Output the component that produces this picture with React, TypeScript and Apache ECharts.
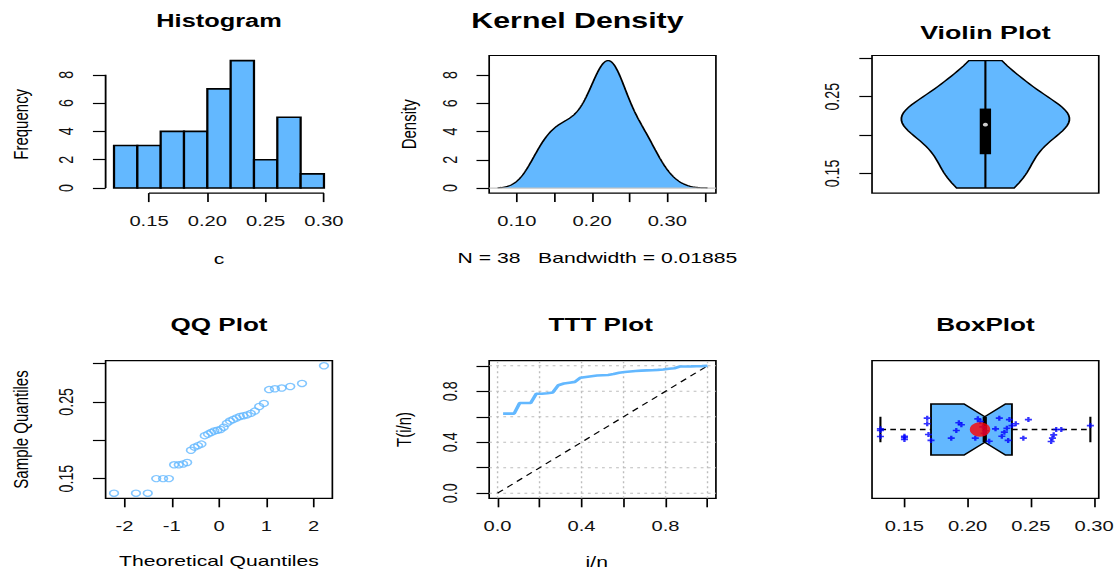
import React, { useEffect, useRef } from "react";
import * as echarts from "echarts";

// ---- data: sorted sample of c (n = 38) ----
const sample = [
  0.131, 0.131, 0.131,
  0.15, 0.15, 0.15,
  0.168, 0.168, 0.169, 0.171,
  0.187, 0.191, 0.193, 0.195,
  0.206, 0.208, 0.21, 0.212, 0.213, 0.214, 0.217,
  0.222, 0.225, 0.227, 0.229, 0.231, 0.232, 0.233, 0.235, 0.238,
  0.244, 0.248,
  0.266, 0.267, 0.268, 0.27, 0.274,
  0.297,
];

// vertical offsets of the strip points drawn over the box plot (same order as sample)
const stripJitter = [
  0.005, -0.055, -0.008,
  -0.053, -0.078, -0.063,
  0.089, 0.045, -0.039, -0.086,
  -0.068, -0.008, 0.053, 0.037,
  -0.068, 0.084, 0.063, 0.02, -0.03, -0.01, -0.092,
  0.005, 0.089, -0.053, -0.021, 0.01, -0.086, 0.078, 0.031, 0.045,
  -0.068, 0.078,
  -0.094, -0.068, -0.042, 0, 0,
  0.031,
];

const histBreaks = [0.12, 0.14, 0.16, 0.18, 0.2, 0.22, 0.24, 0.26, 0.28, 0.3];
const histCounts = [3, 3, 4, 4, 7, 9, 2, 5, 1];
const bandwidth = 0.01885;

// ticks and labelled ticks
const histXTicks = [0.15, 0.2, 0.25, 0.3];
const histYTicks = [0, 2, 4, 6, 8];
const densXTicks = [0.1, 0.15, 0.2, 0.25, 0.3, 0.35];
const densXLabels = [0.1, 0.2, 0.3];
const densYTicks = [0, 2, 4, 6, 8];
const cTicks = [0.15, 0.2, 0.25, 0.3];
const cSparseLabels = [0.15, 0.25];
const qqXTicks = [-2, -1, 0, 1, 2];
const tttTicks = [0, 0.2, 0.4, 0.6, 0.8, 1];
const tttLabels = [0, 0.4, 0.8];

const FILL = "#63B8FF";
const FONT = '"Liberation Sans", Arial, Helvetica, sans-serif';

// layout in px of the unstretched figure; the whole figure is widened horizontally
const FIG_W = 790;
const FIG_H = 574;
const STRETCH = 1114 / FIG_W;
const PLOT_W = 160.8;
const PLOT_H = 137.6;
const COL_X = [74.9, 346.9, 618.4];
const ROW_Y = [55.5, 360.7];
const TICK_FONT = 14.3;

// ---- statistics ----
const n = sample.length;
const xs = [...sample].sort((a, b) => a - b);
const xMin = xs[0];
const xMax = xs[n - 1];
const mean = xs.reduce((s, v) => s + v, 0) / n;
const sd = Math.sqrt(xs.reduce((s, v) => s + (v - mean) ** 2, 0) / (n - 1));

const quantile7 = (p: number) => {
  const h = (n - 1) * p;
  const lo = Math.floor(h);
  const hi = Math.min(lo + 1, n - 1);
  return xs[lo] + (h - lo) * (xs[hi] - xs[lo]);
};
const hinge = (pos: number) => 0.5 * (xs[Math.floor(pos) - 1] + xs[Math.ceil(pos) - 1]);
const n4 = Math.floor((n + 3) / 2) / 2;
const hLo = hinge(n4);
const hMed = hinge((n + 1) / 2);
const hHi = hinge(n + 1 - n4);
const widen = (a: number, b: number): [number, number] => [a - 0.04 * (b - a), b + 0.04 * (b - a)];

const gauss = (u: number) => Math.exp(-0.5 * u * u) / Math.sqrt(2 * Math.PI);
const kde = (t: number, h: number) => xs.reduce((s, v) => s + gauss((t - v) / h), 0) / (n * h);

// kernel density estimate, 512 points over range +/- 3 bandwidths
const densFrom = xMin - 3 * bandwidth;
const densTo = xMax + 3 * bandwidth;
const densCurve = Array.from({ length: 512 }, (_, i) => {
  const t = densFrom + ((densTo - densFrom) * i) / 511;
  return [t, kde(t, bandwidth)];
});
const densMin = Math.min(...densCurve.map((p) => p[1]));
const densPeak = Math.max(...densCurve.map((p) => p[1]));

// violin outline: normal-reference bandwidth, 50 points over the data range
const hViolin = sd * Math.pow(4 / (3 * n), 0.2);
const violinGrid = Array.from({ length: 50 }, (_, i) => xMin + ((xMax - xMin) * i) / 49);
const violinEst = violinGrid.map((t) => kde(t, hViolin));
const violinScale = 0.4 / Math.max(...violinEst);
const violinOutline = [
  ...violinGrid.map((t, i) => [1 - violinEst[i] * violinScale, t]),
  ...violinGrid.map((t, i) => [1 + violinEst[i] * violinScale, t]).reverse(),
];
const vQ1 = quantile7(0.25);
const vQ3 = quantile7(0.75);
const vMed = quantile7(0.5);
const vBoxHalf = 0.027;

// normal quantile function
function qnorm(p: number): number {
  const a = [-39.69683028665376, 220.9460984245205, -275.9285104469687, 138.357751867269, -30.66479806614716, 2.506628277459239];
  const b = [-54.47609879822406, 161.5858368580409, -155.6989798598866, 66.80131188771972, -13.28068155288572];
  const c = [-0.007784894002430293, -0.3223964580411365, -2.400758277161838, -2.549732539343734, 4.374664141464968, 2.938163982698783];
  const d = [0.007784695709041462, 0.3224671290700398, 2.445134137142996, 3.754408661907416];
  const pl = 0.02425;
  if (p < pl) {
    const q = Math.sqrt(-2 * Math.log(p));
    return (((((c[0] * q + c[1]) * q + c[2]) * q + c[3]) * q + c[4]) * q + c[5]) / ((((d[0] * q + d[1]) * q + d[2]) * q + d[3]) * q + 1);
  }
  if (p > 1 - pl) {
    const q = Math.sqrt(-2 * Math.log(1 - p));
    return -(((((c[0] * q + c[1]) * q + c[2]) * q + c[3]) * q + c[4]) * q + c[5]) / ((((d[0] * q + d[1]) * q + d[2]) * q + d[3]) * q + 1);
  }
  const q = p - 0.5;
  const r = q * q;
  return ((((((a[0] * r + a[1]) * r + a[2]) * r + a[3]) * r + a[4]) * r + a[5]) * q) / (((((b[0] * r + b[1]) * r + b[2]) * r + b[3]) * r + b[4]) * r + 1);
}
const qqPoints = xs.map((v, i) => [qnorm((i + 0.5) / n), v]);

// total time on test transform
const tttRaw: number[] = [n * xs[0]];
for (let j = 1; j < n; j++) tttRaw.push(tttRaw[j - 1] + (n - j) * (xs[j] - xs[j - 1]));
const tttPoints = tttRaw.map((t, j) => [(j + 1) / n, t / tttRaw[n - 1]]);

// notched box
const boxHalf = 0.2;
const notch = (1.58 * (hHi - hLo)) / Math.sqrt(n);
const notchBox = [
  [hLo, 1 - boxHalf], [hMed - notch, 1 - boxHalf], [hMed, 1 - boxHalf / 2], [hMed + notch, 1 - boxHalf], [hHi, 1 - boxHalf],
  [hHi, 1 + boxHalf], [hMed + notch, 1 + boxHalf], [hMed, 1 + boxHalf / 2], [hMed - notch, 1 + boxHalf], [hLo, 1 + boxHalf],
];

// axis ranges
const histX = widen(histBreaks[0], histBreaks[histBreaks.length - 1]);
const histY = widen(0, Math.max(...histCounts));
const densX = widen(densFrom, densTo);
const densY = widen(densMin, densPeak);
const violinX = widen(0.5, 1.5);
const dataY = widen(xMin, xMax);
const qqX = widen(qqPoints[0][0], qqPoints[n - 1][0]);
const unitR = widen(0, 1);
const boxY = widen(0.5, 1.5);

// ---- option helpers ----
const fmt2 = (v: number) => v.toFixed(2);
const fmt1 = (v: number) => v.toFixed(1);
const fmt0 = (v: number) => String(Math.round(v));

function makeAxis(grid: number, range: [number, number], ticks: number[], labels: number[], fmt: (v: number) => string, vertical: boolean) {
  return {
    type: "value",
    gridIndex: grid,
    min: range[0],
    max: range[1],
    show: ticks.length > 0,
    axisLine: { show: false, onZero: false },
    axisTick: { show: true, customValues: ticks, length: 9, lineStyle: { color: "#000", width: 1.2 } },
    axisLabel: {
      show: true,
      customValues: labels,
      formatter: fmt,
      margin: 21,
      rotate: vertical ? 90 : 0,
      color: "#111",
      fontFamily: FONT,
      fontSize: TICK_FONT,
    },
    splitLine: { show: false },
  };
}

function segments(grid: number, segs: number[][], style: any, z = 3) {
  return {
    type: "custom",
    xAxisIndex: grid,
    yAxisIndex: grid,
    z,
    silent: true,
    clip: false,
    data: segs,
    encode: { x: [0, 2], y: [1, 3] },
    renderItem: (_p: any, api: any) => {
      const a = api.coord([api.value(0), api.value(1)]);
      const b = api.coord([api.value(2), api.value(3)]);
      return { type: "line", shape: { x1: a[0], y1: a[1], x2: b[0], y2: b[1] }, style: { fill: null, ...style } };
    },
  };
}

function polygonSeries(grid: number, pts: number[][], style: any, z = 2) {
  return {
    type: "custom",
    xAxisIndex: grid,
    yAxisIndex: grid,
    z,
    silent: true,
    clip: false,
    data: [pts[0]],
    renderItem: (_p: any, api: any) => ({
      type: "polygon",
      shape: { points: pts.map((p) => api.coord(p)) },
      style,
    }),
  };
}

function text(t: string, x: number, y: number, size = 15, bold = false, rotate = false) {
  return {
    type: "text",
    x,
    y,
    rotation: rotate ? Math.PI / 2 : 0,
    silent: true,
    style: {
      text: t,
      fontFamily: FONT,
      fontSize: size,
      fontWeight: bold ? "bold" : "normal",
      fill: "#000",
      align: "center",
      verticalAlign: "middle",
    },
  };
}

function buildOption(): any {
  const grids = [0, 1].flatMap((r) =>
    [0, 1, 2].map((c) => ({
      left: COL_X[c],
      top: ROW_Y[r],
      width: PLOT_W,
      height: PLOT_H,
      show: !(r === 0 && c === 0),
      borderColor: "#000",
      borderWidth: 1.2,
      backgroundColor: "rgba(0,0,0,0)",
      containLabel: false,
      outerBoundsMode: "none",
    }))
  );

  const xAxis = [
    makeAxis(0, histX, histXTicks, histXTicks, fmt2, false),
    makeAxis(1, densX, densXTicks, densXLabels, fmt2, false),
    makeAxis(2, violinX, [], [], fmt2, false),
    makeAxis(3, qqX, qqXTicks, qqXTicks, fmt0, false),
    makeAxis(4, unitR, tttTicks, tttLabels, fmt1, false),
    makeAxis(5, dataY, cTicks, cTicks, fmt2, false),
  ];
  const yAxis = [
    makeAxis(0, histY, histYTicks, histYTicks, fmt0, true),
    makeAxis(1, densY, densYTicks, densYTicks, fmt0, true),
    makeAxis(2, dataY, cTicks, cSparseLabels, fmt2, true),
    makeAxis(3, dataY, cTicks, cSparseLabels, fmt2, true),
    makeAxis(4, unitR, tttTicks, tttLabels, fmt1, true),
    makeAxis(5, boxY, [], [], fmt2, true),
  ];

  const series: any[] = [
    // histogram
    {
      type: "custom",
      xAxisIndex: 0,
      yAxisIndex: 0,
      z: 2,
      silent: true,
      data: histCounts.map((c, i) => [histBreaks[i], histBreaks[i + 1], c]),
      encode: { x: [0, 1], y: 2 },
      renderItem: (_p: any, api: any) => {
        const a = api.coord([api.value(0), api.value(2)]);
        const b = api.coord([api.value(1), 0]);
        return {
          type: "rect",
          shape: { x: a[0], y: a[1], width: b[0] - a[0], height: b[1] - a[1] },
          style: { fill: FILL, stroke: "#000", lineWidth: 1.6 },
        };
      },
    },
    segments(
      0,
      [
        [histXTicks[0], histY[0], histXTicks[histXTicks.length - 1], histY[0]],
        [histX[0], histYTicks[0], histX[0], histYTicks[histYTicks.length - 1]],
      ],
      { stroke: "#000", lineWidth: 1.3 }
    ),

    // kernel density
    {
      type: "line",
      xAxisIndex: 1,
      yAxisIndex: 1,
      data: densCurve,
      symbol: "none",
      silent: true,
      z: 2,
      lineStyle: { color: "#000", width: 1.3 },
      areaStyle: { color: FILL, opacity: 1 },
    },
    segments(1, [[densX[0], 0, densX[1], 0]], { stroke: "#c4c4c4", lineWidth: 1.2 }, 4),

    // violin
    polygonSeries(2, violinOutline, { fill: FILL, stroke: "#000", lineWidth: 1.3 }, 2),
    segments(2, [[1, xMin, 1, xMax]], { stroke: "#000", lineWidth: 1.5 }, 3),
    polygonSeries(
      2,
      [
        [1 - vBoxHalf, vQ1],
        [1 + vBoxHalf, vQ1],
        [1 + vBoxHalf, vQ3],
        [1 - vBoxHalf, vQ3],
      ],
      { fill: "#000" },
      4
    ),
    {
      type: "scatter",
      xAxisIndex: 2,
      yAxisIndex: 2,
      data: [[1, vMed]],
      symbol: "circle",
      symbolSize: 3.6,
      itemStyle: { color: "#fff" },
      silent: true,
      z: 5,
    },

    // QQ plot
    {
      type: "scatter",
      xAxisIndex: 3,
      yAxisIndex: 3,
      data: qqPoints,
      symbol: "circle",
      symbolSize: 6.2,
      itemStyle: { color: "rgba(0,0,0,0)", borderColor: FILL, borderWidth: 1.2 },
      silent: true,
      z: 3,
    },

    // TTT plot
    segments(
      4,
      tttTicks.flatMap((v) => [
        [v, unitR[0], v, unitR[1]],
        [unitR[0], v, unitR[1], v],
      ]),
      { stroke: "#bdbdbd", lineWidth: 1, lineDash: [2, 3] },
      1
    ),
    segments(4, [[0, 0, 1, 1]], { stroke: "#000", lineWidth: 1.1, lineDash: [5, 4] }, 3),
    {
      type: "line",
      xAxisIndex: 4,
      yAxisIndex: 4,
      data: tttPoints,
      symbol: "none",
      silent: true,
      z: 4,
      lineStyle: { color: FILL, width: 2.6 },
    },

    // box plot
    polygonSeries(5, notchBox, { fill: FILL, stroke: "#000", lineWidth: 1.3 }, 2),
    segments(
      5,
      [
        [xMin, 1, hLo, 1],
        [hHi, 1, xMax, 1],
      ],
      { stroke: "#000", lineWidth: 1.3, lineDash: [4, 3] },
      3
    ),
    segments(
      5,
      [
        [xMin, 1 - boxHalf / 2, xMin, 1 + boxHalf / 2],
        [xMax, 1 - boxHalf / 2, xMax, 1 + boxHalf / 2],
      ],
      { stroke: "#000", lineWidth: 1.5 },
      3
    ),
    segments(5, [[hMed, 1 - boxHalf / 2, hMed, 1 + boxHalf / 2]], { stroke: "#000", lineWidth: 3 }, 4),
    {
      type: "scatter",
      xAxisIndex: 5,
      yAxisIndex: 5,
      data: sample.map((v, i) => [v, 1 + stripJitter[i]]),
      symbol: "path://M2,0H4V2H6V4H4V6H2V4H0V2H2Z",
      symbolSize: 5,
      itemStyle: { color: "#0000FF" },
      silent: true,
      z: 5,
    },
    {
      type: "scatter",
      xAxisIndex: 5,
      yAxisIndex: 5,
      data: [[mean, 1]],
      symbol: "circle",
      symbolSize: 14.5,
      itemStyle: { color: "#FF0000" },
      silent: true,
      z: 6,
    },
  ];

  const cx = COL_X.map((x) => x + PLOT_W / 2);
  const cy = ROW_Y.map((y) => y + PLOT_H / 2);

  const graphic = [
    text("Histogram", cx[0], 20.5, 18, true),
    text("Kernel Density", 409.5, 20.5, 21.5, true),
    text("Violin Plot", cx[2], 32.3, 19, true),
    text("QQ Plot", cx[0], 325, 18.5, true),
    text("TTT Plot", 426, 325, 18.5, true),
    text("BoxPlot", cx[2], 325, 18.5, true),
    text("Frequency", 14.2, cy[0], 15, false, true),
    text("c", cx[0], 259, 15),
    text("Density", 289.6, cy[0], 15, false, true),
    text(`N = ${n}   Bandwidth = ${bandwidth}`, 423.7, 258, 15),
    text("Sample Quantiles", 14.2, cy[1], 15, false, true),
    text("Theoretical Quantiles", cx[0], 561, 15),
    text("T(i/n)", 286.5, cy[1], 15, false, true),
    text("i/n", 423.2, 562, 15),
  ];

  return {
    animation: false,
    backgroundColor: "#fff",
    textStyle: { fontFamily: FONT },
    grid: grids,
    xAxis,
    yAxis,
    series,
    graphic: { elements: graphic },
  };
}

export default function App() {
  const ref = useRef<HTMLDivElement>(null);
  useEffect(() => {
    if (!ref.current) return;
    const chart = echarts.init(ref.current, null, { renderer: "svg" });
    chart.setOption(buildOption());
    return () => chart.dispose();
  }, []);
  return (
    <div style={{ position: "fixed", left: 0, top: 0, width: 1114, height: 574, overflow: "hidden", background: "#fff" }}>
      <div
        ref={ref}
        style={{ width: FIG_W, height: FIG_H, transform: `scaleX(${STRETCH})`, transformOrigin: "0 0" }}
      />
    </div>
  );
}
